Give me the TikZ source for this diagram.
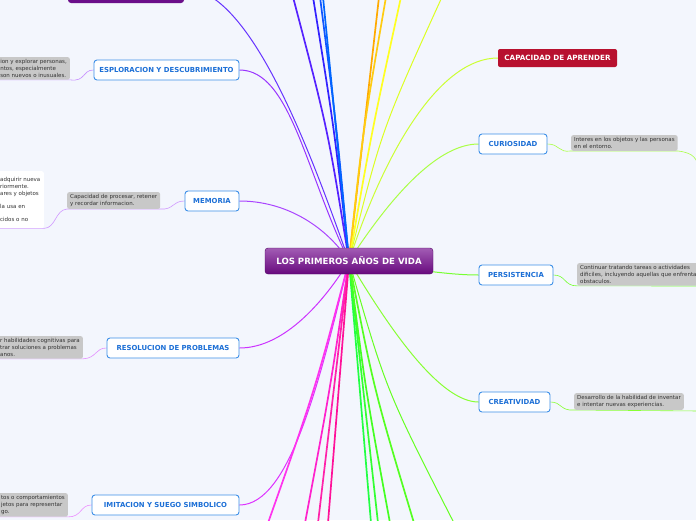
\documentclass[tikz,border=0pt]{standalone}
\usepackage{fontspec}
\setmainfont{DejaVu Sans}
\usetikzlibrary{positioning}
\definecolor{paper}{RGB}{243,246,253}
\definecolor{topicblue}{RGB}{61,143,232}
\definecolor{topictext}{RGB}{28,111,214}
\definecolor{notegray}{RGB}{200,200,200}
\definecolor{notetext}{RGB}{51,51,51}
\definecolor{roottop}{RGB}{162,92,180}
\definecolor{rootbot}{RGB}{104,10,126}
\definecolor{rootedge}{RGB}{82,4,100}
\definecolor{pastpurple}{RGB}{107,15,138}
\definecolor{learnred}{RGB}{184,17,47}
% branch colours
\definecolor{cpast}{RGB}{102,51,255}
\definecolor{cexplore}{RGB}{153,51,255}
\definecolor{cmemory}{RGB}{170,68,255}
\definecolor{csolve}{RGB}{204,51,255}
\definecolor{cimitate}{RGB}{221,51,255}
\definecolor{ctopa}{RGB}{85,34,255}
\definecolor{ctopb}{RGB}{51,34,255}
\definecolor{ctopc}{RGB}{17,85,255}
\definecolor{ctopd}{RGB}{0,102,255}
\definecolor{ctope}{RGB}{255,170,0}
\definecolor{ctopf}{RGB}{255,204,17}
\definecolor{ctopg}{RGB}{255,255,34}
\definecolor{ctoph}{RGB}{221,255,34}
\definecolor{clearn}{RGB}{204,255,51}
\definecolor{ccurious}{RGB}{170,255,68}
\definecolor{cpersist}{RGB}{119,255,51}
\definecolor{ccreate}{RGB}{136,255,51}
\definecolor{cbota}{RGB}{255,51,238}
\definecolor{cbotb}{RGB}{255,34,204}
\definecolor{cbotc}{RGB}{255,34,170}
\definecolor{cbotd}{RGB}{255,17,153}
\definecolor{cbote}{RGB}{34,255,68}
\definecolor{cbotf}{RGB}{51,255,51}
\definecolor{cbotg}{RGB}{68,255,34}
\definecolor{coth}{RGB}{85,255,34}
\definecolor{cboti}{RGB}{102,255,34}
\pgfdeclarelayer{bg}
\pgfdeclarelayer{links}
\pgfsetlayers{bg,links,main}

\begin{document}
\begin{tikzpicture}[x=1pt, y=-1pt,
    root/.style={draw=rootedge, top color=roottop, bottom color=rootbot, rounded corners=3pt,
                 minimum width=168pt, minimum height=26pt, text=white,
                 font=\fontsize{8.6}{10}\selectfont\bfseries},
    topic/.style={draw=topicblue, fill=white, line width=0.9pt, rounded corners=3pt,
                  minimum height=20pt, text=topictext, font=\fontsize{6.9}{8}\selectfont\bfseries},
    note/.style={fill=notegray, rounded corners=2pt, align=left,
                 inner xsep=3pt, inner ysep=2.2pt, text=notetext, font=\fontsize{5.5}{6.9}\selectfont},
    link/.style={line width=1pt},
    farlink/.style={line width=1.7pt},
    noteline/.style={line width=0.6pt},
  ]
  \begin{pgfonlayer}{bg}
    \fill[paper] (0,0) rectangle (696,520);
  \end{pgfonlayer}
  \useasboundingbox (0,0) rectangle (696,520);

  \node[root] (root) at (349,261) {LOS PRIMEROS AÑOS DE VIDA};
  \node[fill=pastpurple, rounded corners=3pt, minimum width=116pt, minimum height=30pt] (past) at (126,-12) {};

  % left branches
  \node[topic, minimum width=145pt] (explore) at (166.5,70) {ESPLORACION Y DESCUBRIMIENTO};
  \node[topic, minimum width=54pt] (memory) at (212,201) {MEMORIA};
  \node[topic, minimum width=132pt] (solve) at (173,348) {RESOLUCION DE PROBLEMAS};
  \node[topic, minimum width=147pt] (imitate) at (165.5,505) {IMITACION Y SUEGO SIMBOLICO};

  \node[note, anchor=north east] (exploreN) at (70,57) {ion y explorar personas,\\ntos, especialmente\\son nuevos o inusuales.};
  \node[note, anchor=north west] (memoryN) at (67,192) {Capacidad de procesar, retener\\y recordar informacion.};
  \node[note, anchor=north east, fill=white, inner xsep=3.5pt, minimum height=57pt] (memoryW) at (44,171)
    {adquirir nueva\\riormente.\\ares y objetos\\[6.4pt]la usa en\\[6.4pt]cidos o no};
  \node[note, anchor=north east] (solveN) at (83,336) {r habilidades cognitivas para\\trar soluciones a problemas\\anos.};
  \node[note, anchor=north east] (imitateN) at (68,493) {tos o comportamientos\\jetos para representar\\go.};

  % right branches
  \node[fill=learnred, rounded corners=2pt, minimum width=119pt, minimum height=18pt, text=white,
        font=\fontsize{7.2}{8}\selectfont\bfseries] (learn) at (557.5,58) {CAPACIDAD DE APRENDER};
  \node[topic, minimum width=68pt] (curious) at (513,144) {CURIOSIDAD};
  \node[topic, minimum width=74pt] (persist) at (516,275) {PERSISTENCIA};
  \node[topic, minimum width=71pt] (create) at (514.5,402) {CREATIVIDAD};

  \node[note, anchor=north west] (curiousN) at (571,135) {Interes en los objetos y las personas\\en el entorno.};
  \node[note, anchor=north west] (persistN) at (577,263) {Continuar tratando tareas o actividades\\dificiles, incluyendo aquellas que enfrenta\\obstaculos.};
  \node[note, anchor=north west] (createN) at (574,393) {Desarrollo de la habilidad de inventar\\e intentar nuevas experiencias.};

  % free ends off the page
  \coordinate (ta) at (293,-3);  \coordinate (tb) at (313,-3);
  \coordinate (tc) at (320,-3);  \coordinate (td) at (323,-3);
  \coordinate (te) at (379,-3);  \coordinate (tf) at (386,-3);
  \coordinate (tg) at (401,-3);  \coordinate (th) at (442,-3);
  \coordinate (ba) at (268,523); \coordinate (bb) at (305,523);
  \coordinate (bc) at (318,523); \coordinate (bd) at (328,523);
  \coordinate (be) at (371,523); \coordinate (bf) at (378,523);
  \coordinate (bg) at (390,523); \coordinate (bh) at (414,523);
  \coordinate (bi) at (454,523);
  \coordinate (curiousE) at (700,172);
  \coordinate (persistE) at (700,286);
  \coordinate (createE) at (700,411);

  \begin{pgfonlayer}{links}
    \draw[link, cpast] (root.center) .. controls (310,150) and (250,-12) .. (past.east);
    \draw[link, cexplore] (explore.east) .. controls (290,70) and (305,170) .. (root.center);
    \draw[link, cmemory] (memory.east) .. controls (285,201) and (325,225) .. (root.center);
    \draw[link, csolve] (solve.east) .. controls (285,348) and (325,300) .. (root.center);
    \draw[link, cimitate] (imitate.east) .. controls (290,505) and (320,380) .. (root.center);
    \draw[link, clearn] (root.center) .. controls (385,150) and (440,58) .. (learn.west);
    \draw[link, ccurious] (root.center) .. controls (395,190) and (440,144) .. (curious.west);
    \draw[link, cpersist] (root.center) .. controls (420,270) and (450,275) .. (persist.west);
    \draw[link, ccreate] (root.center) .. controls (390,330) and (440,402) .. (create.west);

    \draw[farlink, ctopa] (root.center) .. controls (328,130) .. (ta);
    \draw[farlink, ctopb] (root.center) .. controls (334.5,130) .. (tb);
    \draw[farlink, ctopc] (root.center) .. controls (337,130) .. (tc);
    \draw[farlink, ctopd] (root.center) -- (td);
    \draw[farlink, ctope] (root.center) -- (te);
    \draw[farlink, ctopf] (root.center) .. controls (363,130) .. (tf);
    \draw[farlink, ctopg] (root.center) .. controls (372,130) .. (tg);
    \draw[link, ctoph] (root.center) .. controls (381.5,130) .. (th);

    \draw[farlink, cbota] (root.center) .. controls (315,390) .. (ba);
    \draw[farlink, cbotb] (root.center) .. controls (330,390) .. (bb);
    \draw[farlink, cbotc] (root.center) -- (bc);
    \draw[farlink, cbotd] (root.center) -- (bd);
    \draw[farlink, cbote] (root.center) -- (be);
    \draw[farlink, cbotf] (root.center) -- (bf);
    \draw[farlink, cbotg] (root.center) .. controls (365.5,390) .. (bg);
    \draw[farlink, coth] (root.center) .. controls (374,390) .. (bh);
    \draw[link, cboti] (root.center) .. controls (386,390) .. (bi);

    % lines under the notes
    \draw[noteline, cexplore!55] (explore.west) .. controls (82,70) and (86,82) .. (exploreN.south east) -- (exploreN.south west);
    \draw[noteline, cmemory!55] (memory.west) .. controls (172,201) and (174,210) .. (memoryN.south east)
      -- (memoryN.south west) .. controls (55,210) and (56,228) .. (memoryW.south east) -- (memoryW.south west);
    \draw[noteline, csolve!55] (solve.west) .. controls (95,348) and (97,358) .. (solveN.south east) -- (solveN.south west);
    \draw[noteline, cimitate!55] (imitate.west) .. controls (80,505) and (82,517) .. (imitateN.south east) -- (imitateN.south west);
    \draw[noteline, ccurious] (curious.east) .. controls (560,144) and (558,153) .. (curiousN.south west)
      -- (curiousN.south east) .. controls (694,153) and (697,158) .. (curiousE);
    \draw[noteline, cpersist] (persist.east) .. controls (566,275) and (564,286) .. (persistN.south west) -- (persistE);
    \draw[noteline, ccreate] (create.east) .. controls (562,402) and (560,411) .. (createN.south west) -- (createE);
  \end{pgfonlayer}
\end{tikzpicture}
\end{document}
